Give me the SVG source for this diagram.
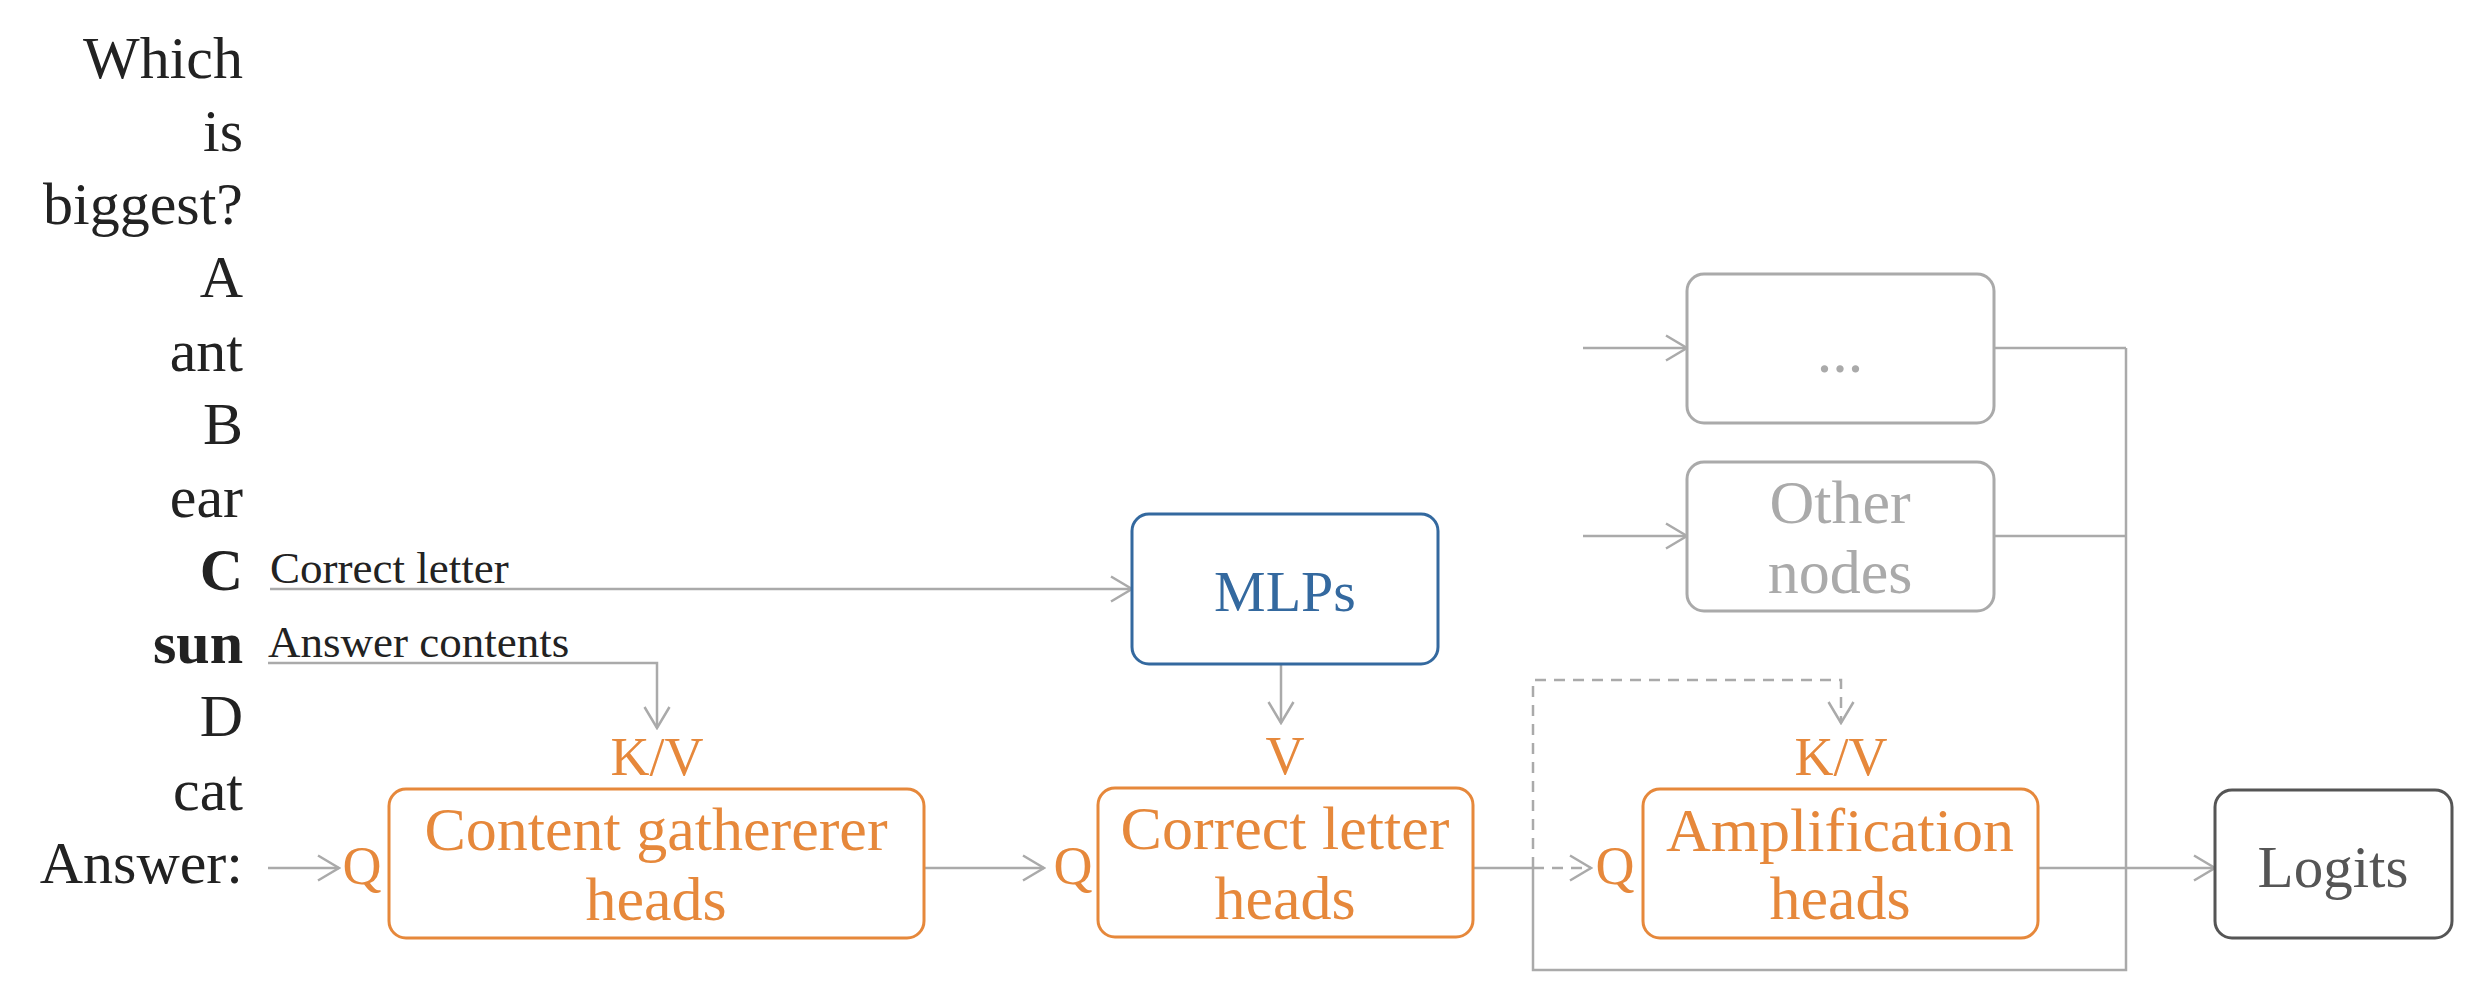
<svg xmlns="http://www.w3.org/2000/svg" width="2490" height="1004" viewBox="0 0 2490 1004">
<defs>
<style>
.tok{font-family:"Liberation Serif","Times New Roman",serif;font-size:60px;fill:#222;text-anchor:end}
.b{font-weight:bold}
.lbl{font-family:"Liberation Serif","Times New Roman",serif;font-size:45px;fill:#222}
.nt{font-family:"Liberation Serif","Times New Roman",serif;font-size:62px;text-anchor:middle}
.port{font-family:"Liberation Serif","Times New Roman",serif;font-size:54px;fill:#E6883B;text-anchor:middle}
.orange rect{fill:#fff;stroke:#E6883B;stroke-width:3}
.orange text{fill:#E6883B}
.conn{fill:none;stroke:#AAAAAA;stroke-width:2.5}
.dash{stroke-dasharray:11 8}
</style>
<marker id="arr" viewBox="-24 -15 26 30" refX="0" refY="0" markerWidth="26" markerHeight="30" markerUnits="userSpaceOnUse" orient="auto">
<path d="M-21,-12.5 L0,0 L-21,12.5" fill="none" stroke="#AAAAAA" stroke-width="2.5" stroke-dasharray="none"/>
</marker>
</defs>
<rect width="2490" height="1004" fill="#fff"/>
<g id="tokens">
<text class="tok" x="243" y="78">Which</text>
<text class="tok" x="243" y="151">is</text>
<text class="tok" x="243" y="224">biggest?</text>
<text class="tok" x="243" y="297">A</text>
<text class="tok" x="243" y="371">ant</text>
<text class="tok" x="243" y="444">B</text>
<text class="tok" x="243" y="517">ear</text>
<text class="tok b" x="243" y="590">C</text>
<text class="tok b" x="243" y="663">sun</text>
<text class="tok" x="243" y="736">D</text>
<text class="tok" x="243" y="810">cat</text>
<text class="tok" x="243" y="883">Answer:</text>
</g>
<g id="labels">
<text class="lbl" x="270" y="583">Correct letter</text>
<text class="lbl" x="268" y="657">Answer contents</text>
</g>
<g id="connectors">
<path class="conn" d="M270,589 H1132" marker-end="url(#arr)"/>
<path class="conn" d="M268,663 H657 V728" marker-end="url(#arr)"/>
<path class="conn" d="M268,868 H339" marker-end="url(#arr)"/>
<path class="conn" d="M924,868 H1044" marker-end="url(#arr)"/>
<path class="conn" d="M1281,664 V723" marker-end="url(#arr)"/>
<path class="conn" d="M1473,868 H1533 V970 H2126 V348"/>
<path class="conn dash" d="M1533,868 H1591" marker-end="url(#arr)"/>
<path class="conn dash" d="M1533,868 V680 H1841 V723" marker-end="url(#arr)"/>
<path class="conn" d="M1583,348 H1687" marker-end="url(#arr)"/>
<path class="conn" d="M1583,536 H1687" marker-end="url(#arr)"/>
<path class="conn" d="M1994,348 H2126"/>
<path class="conn" d="M1994,536 H2126"/>
<path class="conn" d="M2038,868 H2215" marker-end="url(#arr)"/>
</g>
<g id="content-gatherer" class="orange">
<rect x="389" y="789" width="535" height="149" rx="17"/>
<text class="nt" x="656" y="850">Content gathererer</text>
<text class="nt" x="656" y="920">heads</text>
<text class="port" x="657" y="775">K/V</text>
<text class="port" x="362" y="884">Q</text>
</g>
<g id="mlps">
<rect x="1132" y="514" width="306" height="150" rx="17" fill="#fff" stroke="#34699F" stroke-width="3"/>
<text class="nt" x="1285" y="611" fill="#34699F" style="font-size:58px">MLPs</text>
</g>
<g id="correct-letter" class="orange">
<rect x="1098" y="788" width="375" height="149" rx="17"/>
<text class="nt" x="1285" y="849">Correct letter</text>
<text class="nt" x="1285" y="919">heads</text>
<text class="port" x="1285" y="774">V</text>
<text class="port" x="1073" y="884">Q</text>
</g>
<g id="amplification" class="orange">
<rect x="1643" y="789" width="395" height="149" rx="17"/>
<text class="nt" x="1840" y="851">Amplification</text>
<text class="nt" x="1840" y="919">heads</text>
<text class="port" x="1841" y="775">K/V</text>
<text class="port" x="1615" y="884">Q</text>
</g>
<g id="ellipsis-node">
<rect x="1687" y="274" width="307" height="149" rx="17" fill="#fff" stroke="#AAAAAA" stroke-width="3"/>
<text class="nt" x="1840" y="372" fill="#AAAAAA">...</text>
</g>
<g id="other-nodes">
<rect x="1687" y="462" width="307" height="149" rx="17" fill="#fff" stroke="#AAAAAA" stroke-width="3"/>
<text class="nt" x="1840" y="523" fill="#AAAAAA">Other</text>
<text class="nt" x="1840" y="593" fill="#AAAAAA">nodes</text>
</g>
<g id="logits">
<rect x="2215" y="790" width="237" height="148" rx="17" fill="#fff" stroke="#555555" stroke-width="3"/>
<text class="nt" x="2333" y="887" fill="#555555" style="font-size:59px">Logits</text>
</g>
</svg>
